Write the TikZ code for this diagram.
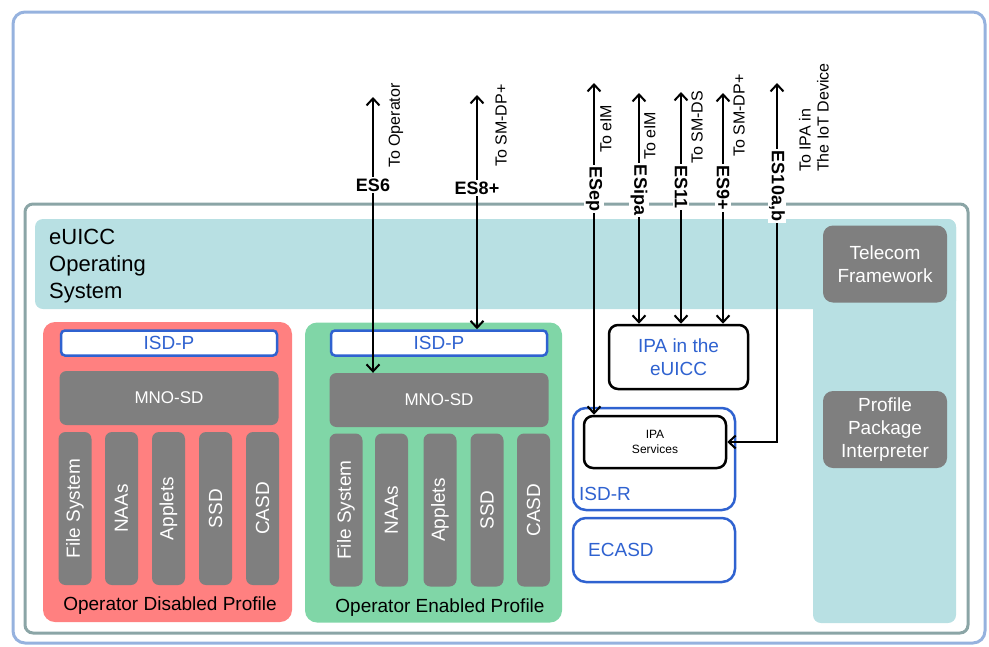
\documentclass[tikz,border=0pt]{standalone}
\usepackage{fontspec}
\setmainfont{Liberation Sans}
\usepackage{xcolor}
\usepackage{tikz}
\usetikzlibrary{arrows.meta}

\definecolor{outerblue}{RGB}{150,178,222}
\definecolor{framegray}{RGB}{139,165,166}
\definecolor{ostea}{RGB}{184,224,227}
\definecolor{boxgray}{RGB}{127,127,127}
\definecolor{offred}{RGB}{255,128,128}
\definecolor{ongreen}{RGB}{128,214,167}
\definecolor{sdblue}{RGB}{47,98,208}

\newcommand{\txtsize}[2]{\fontsize{#1}{#2}\selectfont}

\begin{document}
\begin{tikzpicture}[x=1pt,y=1pt,yscale=-1,
  every node/.style={inner sep=0},
  graybox/.style={fill=boxgray,rounded corners=7,text=white,align=center},
  barbox/.style={graybox,rotate=90,minimum width=153,minimum height=33,font=\txtsize{19}{22}},
  mnobox/.style={graybox,minimum width=219,minimum height=54,font=\txtsize{17}{20}},
  isdpbox/.style={draw=sdblue,line width=2.5,fill=white,rounded corners=4,text=sdblue,minimum width=216,minimum height=25,font=\txtsize{19}{22}},
  bluebox/.style={draw=sdblue,line width=2.5,rounded corners=13,minimum width=162},
  blackbox/.style={draw=black,line width=2.5,rounded corners=9,fill=white,align=center},
  sidebox/.style={graybox,rounded corners=10,minimum width=124,minimum height=77,font=\txtsize{19}{23}},
  profile/.style={rounded corners=12,minimum width=249,minimum height=300},
  proflbl/.style={font=\txtsize{19}{22}},
  iface/.style={fill=white,inner sep=1.5,font=\txtsize{18}{20}\bfseries},
  dest/.style={rotate=90,anchor=west,align=left,font=\txtsize{16}{18}},
  link/.style={{Straight Barb[length=7pt,width=13pt]}-{Straight Barb[length=7pt,width=13pt]},line width=2}
]
\useasboundingbox (0,0) rectangle (989,646);

%Shape: outer frame
\draw [outerblue,line width=3,rounded corners=12] (13,12) rectangle (985,643);
%Shape: eUICC frame
\draw [framegray,line width=3,rounded corners=8] (25,204) rectangle (968,633);
%Shape: operating system band
\fill [ostea,rounded corners=8] (35,219) rectangle (956,309);
\fill [ostea,rounded corners=8] (813,219) rectangle (956,623);

% Text Node
\node [anchor=west,align=left,font=\txtsize{22}{27}] (os) at (49,266) {eUICC\\Operating\\System};

%Shape: side components
\node [sidebox] (tf) at (885,264) {Telecom\\Framework};
\node [sidebox] (ppi) at (885,429.5) {Profile\\Package\\Interpreter};

%Shape: disabled profile
\node [profile,fill=offred] (off) at (167.5,472) {};
\node [isdpbox] (isdp1) at (169,343) {ISD-P};
\node [mnobox] (mno1) at (169,398) {MNO-SD};
\node [barbox] (fs1) at (75,508.5) {File System};
\node [barbox] (naa1) at (121.5,508.5) {NAAs};
\node [barbox] (app1) at (168.5,508.5) {Applets};
\node [barbox] (ssd1) at (215.5,508.5) {SSD};
\node [barbox] (casd1) at (262.5,508.5) {CASD};
% Text Node
\node [proflbl] (offlbl) at (170,606) {Operator Disabled Profile};

%Shape: enabled profile
\node [profile,fill=ongreen,minimum width=257] (on) at (433.5,472.5) {};
\node [isdpbox] (isdp2) at (439,343) {ISD-P};
\node [mnobox] (mno2) at (439,400) {MNO-SD};
\node [barbox] (fs2) at (346,510) {File System};
\node [barbox] (naa2) at (391.5,510) {NAAs};
\node [barbox] (app2) at (440,510) {Applets};
\node [barbox] (ssd2) at (487,510) {SSD};
\node [barbox] (casd2) at (533.5,510) {CASD};
% Text Node
\node [proflbl] (onlbl) at (440,608) {Operator Enabled Profile};

%Shape: IPA and ISD-R
\node [blackbox,minimum width=139,minimum height=64,text=sdblue,font=\txtsize{19}{23}] (ipae) at (678.5,357) {IPA in the\\eUICC};
\node [bluebox,minimum height=102] (isdr) at (654,459) {};
\node [blackbox,minimum width=142,minimum height=52,font=\txtsize{12}{15}] (ipas) at (655,442) {IPA\\Services};
\node [anchor=west,text=sdblue,font=\txtsize{19}{22}] (isdrlbl) at (579,494) {ISD-R};
\node [bluebox,minimum height=64] (ecasd) at (654,550) {};
\node [anchor=west,text=sdblue,font=\txtsize{19}{22}] (ecasdlbl) at (588,550) {ECASD};

%Straight Lines: interfaces
\coordinate (es6end) at (373,97);
\coordinate (es8end) at (477,95);
\coordinate (esepend) at (594,83);
\coordinate (esipaend) at (639,93);
\coordinate (es11end) at (681,92);
\coordinate (es9end) at (723,93);
\coordinate (es10end) at (777,83);
\draw [link] (es6end) -- (es6end |- mno2.north);
\draw [link] (es8end) -- (es8end |- isdp2.north);
\draw [link] (esepend) -- (esepend |- ipas.north);
\draw [link] (esipaend) -- (esipaend |- ipae.north);
\draw [link] (es11end) -- (es11end |- ipae.north);
\draw [link] (es9end) -- (es9end |- ipae.north);
\draw [link] (es10end) |- (ipas.east);

% Text Node
\node [iface] (es6) at (373,185) {ES6};
\node [iface] (es8) at (477,188) {ES8+};
\node [iface,rotate=-90] (esep) at (594,189) {ESep};
\node [iface,rotate=-90] (esipa) at (639,190) {ESipa};
\node [iface,rotate=-90] (es11) at (681,187) {ES11};
\node [iface,rotate=-90] (es9) at (723,188) {ES9+};
\node [iface,rotate=-90] (es10) at (777,186) {ES10a,b};

% Text Node
\node [dest] (toop) at (396,168) {To Operator};
\node [dest] (todp1) at (501,167) {To SM-DP+};
\node [dest] (toeim1) at (606,153) {To eIM};
\node [dest] (toeim2) at (650,160) {To eIM};
\node [dest] (tods) at (697,164) {To SM-DS};
\node [dest] (todp2) at (739,157) {To SM-DP+};
\node [dest] (toiot) at (814,172) {To IPA in\\The IoT Device};

\end{tikzpicture}
\end{document}
